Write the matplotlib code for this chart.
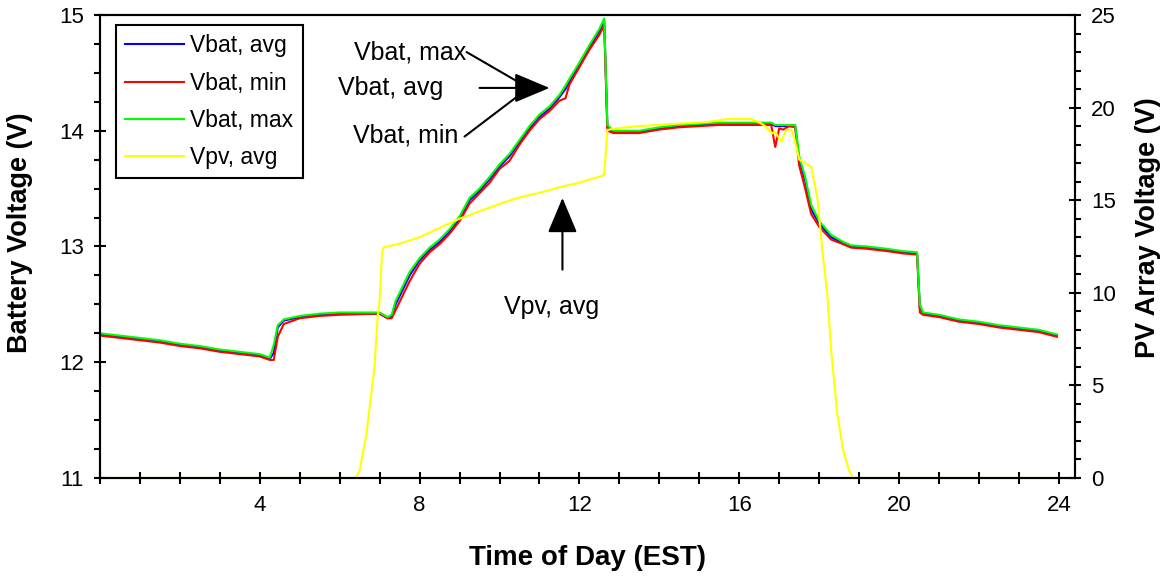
import matplotlib
matplotlib.use('Agg')
import matplotlib.pyplot as plt
from matplotlib.ticker import MultipleLocator, FuncFormatter

plt.rcParams['font.family'] = ['Liberation Sans', 'DejaVu Sans']

# battery voltage, hours of day
t_bat = [0.0, 0.5, 1.0, 1.5, 2.0, 2.5, 3.0, 3.5, 4.0, 4.25,
         4.35, 4.45, 4.6, 5.0, 5.5, 6.0, 7.0, 7.2, 7.3, 7.4,
         7.75, 8.0, 8.25, 8.5, 8.75, 9.0, 9.25, 9.5, 9.75, 10.0,
         10.25, 10.5, 10.75, 11.0, 11.25, 11.5, 11.65, 11.75, 12.0, 12.25,
         12.5, 12.62, 12.7, 12.85, 13.5, 14.0, 14.5, 15.0, 15.5, 16.0,
         16.6, 16.8, 16.9, 17.0, 17.1, 17.25, 17.4, 17.5, 17.65, 17.8,
         18.0, 18.3, 18.6, 18.8, 19.2, 19.7, 20.1, 20.45, 20.52, 20.6,
         21.0, 21.5, 22.0, 22.5, 23.0, 23.5, 23.95]
vbat_avg = [12.24, 12.22, 12.20, 12.18, 12.15, 12.13, 12.10, 12.08, 12.06, 12.03,
            12.08, 12.30, 12.36, 12.39, 12.41, 12.42, 12.42, 12.38, 12.40, 12.50,
            12.75, 12.88, 12.97, 13.04, 13.13, 13.24, 13.40, 13.48, 13.58, 13.69,
            13.78, 13.90, 14.02, 14.12, 14.19, 14.29, 14.36, 14.42, 14.57, 14.72,
            14.86, 14.95, 14.03, 13.99, 13.99, 14.02, 14.04, 14.05, 14.06, 14.06,
            14.06, 14.06, 14.04, 14.04, 14.04, 14.04, 14.04, 13.75, 13.57, 13.32,
            13.20, 13.08, 13.03, 13.00, 12.99, 12.97, 12.95, 12.94, 12.47, 12.42,
            12.40, 12.36, 12.34, 12.31, 12.29, 12.27, 12.23]
vbat_min = [12.23, 12.21, 12.19, 12.17, 12.14, 12.12, 12.09, 12.07, 12.05, 12.02,
            12.02, 12.22, 12.33, 12.38, 12.40, 12.41, 12.42, 12.38, 12.38, 12.45,
            12.70, 12.85, 12.95, 13.02, 13.11, 13.22, 13.37, 13.46, 13.55, 13.67,
            13.74, 13.88, 14.00, 14.10, 14.17, 14.26, 14.28, 14.40, 14.55, 14.70,
            14.83, 14.91, 14.00, 13.98, 13.98, 14.01, 14.03, 14.04, 14.05, 14.05,
            14.05, 14.05, 13.86, 14.02, 14.01, 14.04, 14.03, 13.70, 13.50, 13.28,
            13.17, 13.06, 13.02, 12.99, 12.98, 12.96, 12.94, 12.93, 12.43, 12.41,
            12.39, 12.35, 12.33, 12.30, 12.28, 12.26, 12.22]
vbat_max = [12.25, 12.23, 12.21, 12.19, 12.16, 12.14, 12.11, 12.09, 12.07, 12.04,
            12.15, 12.32, 12.37, 12.40, 12.42, 12.43, 12.43, 12.39, 12.41, 12.53,
            12.78, 12.90, 12.99, 13.06, 13.15, 13.26, 13.42, 13.50, 13.60, 13.71,
            13.80, 13.92, 14.04, 14.14, 14.21, 14.31, 14.39, 14.45, 14.59, 14.74,
            14.88, 14.97, 14.05, 14.00, 14.00, 14.03, 14.05, 14.06, 14.07, 14.07,
            14.07, 14.07, 14.05, 14.05, 14.05, 14.05, 14.05, 13.78, 13.60, 13.36,
            13.22, 13.10, 13.04, 13.01, 13.00, 12.98, 12.96, 12.95, 12.50, 12.43,
            12.41, 12.37, 12.35, 12.32, 12.30, 12.28, 12.24]

# PV array voltage
t_pv = [0.0, 6.4, 6.5, 6.67, 6.87, 6.95, 7.0, 7.06, 7.1, 7.5,
        8.0, 8.5, 9.0, 9.5, 10.0, 10.5, 11.0, 11.5, 12.0, 12.55,
        12.62, 12.7, 13.0, 13.5, 14.2, 14.8, 15.2, 15.7, 16.3, 16.5,
        16.65, 16.83, 16.9, 17.05, 17.17, 17.3, 17.37, 17.5, 17.8, 17.95,
        18.08, 18.2, 18.3, 18.45, 18.6, 18.75, 18.85, 24.0]
vpv_avg = [0.0, 0.0, 0.4, 2.4, 6.0, 8.7, 9.6, 12.2, 12.45, 12.65,
           13.0, 13.5, 14.0, 14.4, 14.8, 15.15, 15.4, 15.7, 15.95, 16.3,
           16.4, 18.8, 18.9, 19.0, 19.1, 19.17, 19.22, 19.38, 19.38, 19.2,
           19.0, 18.6, 18.7, 18.15, 18.8, 18.8, 18.4, 17.2, 16.8, 15.2,
           12.3, 10.0, 6.9, 3.5, 1.5, 0.4, 0.0, 0.0]

fig = plt.figure(figsize=(11.69, 5.77), dpi=100)
ax = fig.add_axes([0.0855, 0.1716, 0.834, 0.8024])
ax2 = ax.twinx()

l1, = ax.plot(t_bat, vbat_avg, color='#0000ff', lw=1.5, label='Vbat, avg')
l2, = ax.plot(t_bat, vbat_min, color='#ff0000', lw=1.5, label='Vbat, min')
l3, = ax.plot(t_bat, vbat_max, color='#00ff00', lw=1.5, label='Vbat, max')
l4, = ax2.plot(t_pv, vpv_avg, color='#ffff00', lw=1.5, label='Vpv, avg')

ax.set_xlim(0, 24.4)
ax.set_ylim(11, 15)
ax2.set_ylim(0, 25)

ax.xaxis.set_major_locator(MultipleLocator(1))
ax.xaxis.set_major_formatter(FuncFormatter(lambda v, p: '%d' % v if v > 0 and v % 4 == 0 else ''))
ax.yaxis.set_major_locator(MultipleLocator(1))
ax.yaxis.set_minor_locator(MultipleLocator(0.25))
ax2.yaxis.set_major_locator(MultipleLocator(5))
ax2.yaxis.set_minor_locator(MultipleLocator(1))

ax.tick_params(axis='x', direction='inout', length=9, width=1.5, labelsize=16, pad=8)
ax.tick_params(axis='y', which='major', direction='inout', length=9, width=1.5, labelsize=16, pad=7)
ax.tick_params(axis='y', which='minor', direction='out', length=4.5, width=1.5)
ax2.tick_params(axis='y', which='major', direction='inout', length=9, width=1.5, labelsize=16, pad=7)
ax2.tick_params(axis='y', which='minor', direction='out', length=4.5, width=1.5)

for a in (ax, ax2):
    for s in a.spines.values():
        s.set_linewidth(1.5)

ax.set_xlabel('Time of Day (EST)', fontsize=20, fontweight='bold')
ax.set_ylabel('Battery Voltage (V)', fontsize=19.5, fontweight='bold')
ax2.set_ylabel('PV Array Voltage (V)', fontsize=19.5, fontweight='bold')
ax.xaxis.set_label_coords(0.5005, -0.145)
ax.yaxis.set_label_coords(-0.069, 0.53)
ax2.yaxis.set_label_coords(1.0615, 0.54)

# arrows pointing at the battery curves
head = dict(arrowstyle='-|>,head_length=1.0,head_width=0.42', color='black', lw=1.5,
            mutation_scale=22, shrinkA=0, shrinkB=0)
plain = dict(arrowstyle='-', color='black', lw=1.5, shrinkA=0, shrinkB=0)
ax.annotate('', xy=(11.25, 14.37), xytext=(9.5, 14.37), arrowprops=head)
ax.annotate('', xy=(10.575, 14.40), xytext=(9.175, 14.68), arrowprops=plain)
ax.annotate('', xy=(10.575, 14.33), xytext=(9.125, 13.95), arrowprops=plain)
ax.text(9.175, 14.68, 'Vbat, max', fontsize=18, ha='right', va='center')
ax.text(8.6, 14.37, 'Vbat, avg', fontsize=18, ha='right', va='center')
ax.text(8.97, 13.96, 'Vbat, min', fontsize=18, ha='right', va='center')

ax.annotate('', xy=(11.575, 13.42), xytext=(11.575, 12.80), arrowprops=head)
ax.text(11.3, 12.48, 'Vpv, avg', fontsize=18, ha='center', va='center')

leg = ax2.legend(handles=[l1, l2, l3, l4], loc='upper left', bbox_to_anchor=(0.0164, 0.978),
                 borderaxespad=0, fontsize=16.5, frameon=True, fancybox=False,
                 handlelength=2.55, handletextpad=0.3, labelspacing=0.62, borderpad=0.4)
leg.get_frame().set_edgecolor('black')
leg.get_frame().set_linewidth(1.5)
leg.get_frame().set_alpha(1)

fig.savefig('out.png', dpi=100)
